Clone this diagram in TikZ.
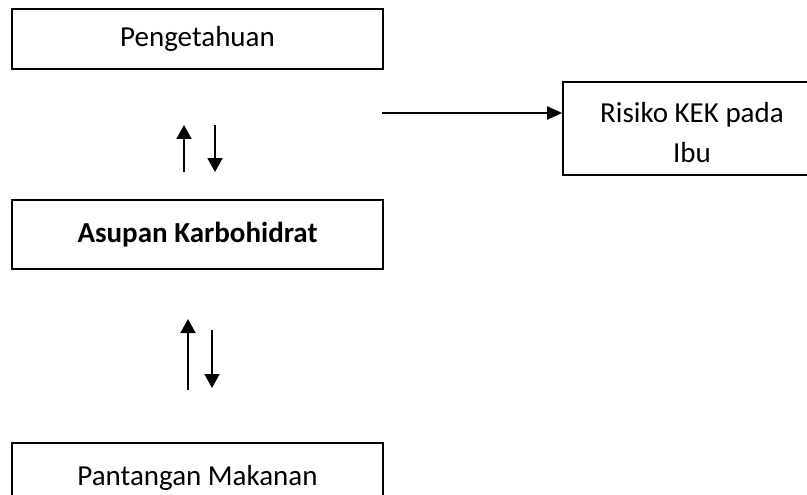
\documentclass[tikz,border=0pt]{standalone}
\usepackage{fontspec}
\setmainfont{Carlito}
\usetikzlibrary{arrows.meta}
\begin{document}
\begin{tikzpicture}[x=1pt,y=-1pt,
  box/.style={draw=black,line width=1.6pt,minimum width=371pt,inner sep=0pt,font=\fontsize{29}{36}\selectfont},
  arr/.style={line width=1.8pt,-{Triangle[width=15pt,length=14pt]}}]
\useasboundingbox (0,0) rectangle (807,495);
\clip (0,0) rectangle (807,495);
\node[box,minimum height=60pt] (peng) at (197.5,39) {Pengetahuan};
\node[box,minimum height=69pt] (asup) at (197.5,234.5) {\bfseries Asupan Karbohidrat};
\node[box,minimum height=70pt] (pant) at (197.5,478) {Pantangan Makanan};
\node[draw=black,line width=1.6pt,minimum width=258pt,minimum height=93pt,inner sep=0pt] (risk) at (692,128.5) {};
\node[font=\fontsize{29}{40}\selectfont,align=center,inner sep=0pt] (risktxt) at (692,133) {Risiko KEK pada\\Ibu};
% arrows between Pengetahuan and Asupan
\coordinate (a1s) at (184,172); \coordinate (a1e) at (184,125);
\coordinate (a2s) at (215,125); \coordinate (a2e) at (215,172);
\draw[arr] (a1s) -- (a1e);
\draw[arr] (a2s) -- (a2e);
% arrows between Asupan and Pantangan
\coordinate (b1s) at (188,390); \coordinate (b1e) at (188,319);
\coordinate (b2s) at (212,330); \coordinate (b2e) at (212,388);
\draw[arr] (b1s) -- (b1e);
\draw[arr] (b2s) -- (b2e);
% horizontal arrow
\coordinate (hs) at (382,113);
\draw[line width=1.8pt,-{Triangle[width=13pt,length=15pt]}] (hs) -- (risk.west |- hs);
\end{tikzpicture}
\end{document}
